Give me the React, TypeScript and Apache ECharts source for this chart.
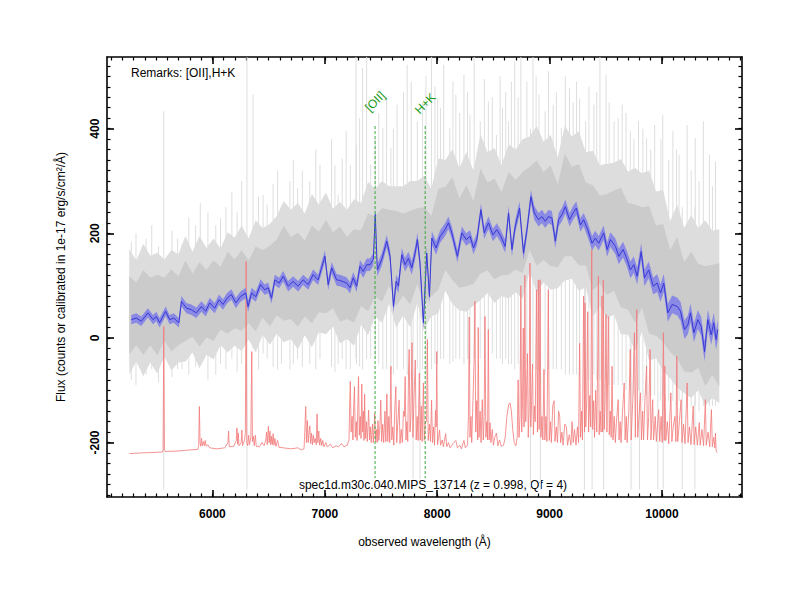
import React, { useEffect, useRef } from "react";
import * as echarts from "echarts";

const FONT = '"Liberation Sans", Arial, Helvetica, sans-serif';
const X_MIN = 5062;
const X_MAX = 10712;
const Y_MIN = -304;
const Y_MAX = 537;

const xMajorTicks = [6000, 7000, 8000, 9000, 10000];
const yMajorTicks = [-200, 0, 200, 400];
const xMinorTicks: number[] = [];
for (let v = 5100; v <= 10700; v += 100) xMinorTicks.push(v);
const yMinorTicks: number[] = [];
for (let v = -300; v <= 520; v += 20) yMinorTicks.push(v);

// smoothed spectrum: [wavelength, flux, 1-sigma]
const smoothed: [number, number, number][] = [
  [5278, 35, 9], [5323, 38, 9], [5367, 32, 9], [5426, 48, 9], [5471, 35, 9], [5501, 41, 9],
  [5530, 29, 9], [5584, 51, 9], [5619, 35, 9], [5655, 38, 9], [5702, 29, 9], [5724, 70, 10],
  [5768, 57, 10], [5813, 54, 10], [5857, 48, 10], [5902, 60, 10], [5940, 51, 10], [5976, 67, 10],
  [6020, 57, 10], [6059, 73, 10], [6094, 64, 10], [6130, 76, 10], [6169, 83, 10], [6208, 67, 10],
  [6249, 79, 10], [6297, 86, 10], [6317, 60, 11], [6348, 86, 10], [6386, 79, 10], [6428, 102, 10],
  [6466, 92, 10], [6496, 96, 10], [6526, 76, 10], [6555, 111, 10], [6594, 105, 10], [6630, 118, 10],
  [6674, 99, 10], [6718, 108, 10], [6763, 99, 10], [6807, 111, 10], [6852, 102, 10], [6896, 121, 10],
  [6941, 111, 10], [6971, 134, 11], [7001, 156, 11], [7030, 102, 11], [7061, 134, 11], [7105, 111, 11],
  [7134, 110, 11], [7194, 105, 11], [7224, 96, 11], [7253, 115, 11], [7283, 99, 11], [7313, 137, 12],
  [7342, 127, 12], [7373, 140, 12], [7402, 140, 12], [7432, 150, 12], [7449, 236, 12], [7467, 130, 12],
  [7507, 150, 12], [7551, 185, 12], [7581, 156, 12], [7611, 60, 13], [7635, 108, 13], [7655, 99, 13],
  [7685, 159, 13], [7714, 140, 13], [7744, 152, 13], [7774, 134, 13], [7803, 162, 13], [7824, 188, 13],
  [7847, 143, 14], [7877, 29, 15], [7907, 162, 14], [7931, 79, 14], [7952, 191, 13], [7990, 172, 13],
  [8026, 194, 12], [8070, 207, 12], [8100, 220, 12], [8130, 201, 12], [8180, 156, 12], [8219, 201, 12],
  [8258, 188, 12], [8293, 194, 12], [8323, 172, 12], [8353, 188, 12], [8389, 245, 12], [8418, 201, 12],
  [8456, 220, 12], [8496, 197, 12], [8531, 207, 12], [8567, 194, 12], [8605, 175, 12], [8635, 239, 13],
  [8665, 169, 13], [8694, 213, 13], [8733, 248, 13], [8768, 162, 13], [8799, 207, 13], [8834, 270, 13],
  [8864, 239, 13], [8902, 226, 13], [8932, 232, 13], [8961, 223, 13], [8991, 232, 13], [9021, 229, 13],
  [9051, 185, 13], [9080, 226, 13], [9110, 236, 13], [9140, 251, 13], [9178, 226, 13], [9209, 239, 13],
  [9238, 248, 13], [9274, 216, 13], [9303, 226, 13], [9339, 207, 14], [9378, 181, 14], [9407, 191, 14],
  [9437, 181, 14], [9481, 201, 14], [9512, 169, 14], [9541, 188, 14], [9586, 175, 15], [9615, 156, 15],
  [9654, 169, 15], [9690, 150, 15], [9719, 130, 16], [9749, 140, 16], [9779, 118, 16], [9815, 165, 16],
  [9844, 115, 16], [9882, 130, 16], [9922, 99, 16], [9957, 105, 17], [9987, 86, 17], [10016, 105, 17],
  [10052, 48, 17], [10091, 64, 17], [10136, 60, 17], [10165, 51, 18], [10200, 16, 18], [10230, 25, 18],
  [10254, 48, 18], [10284, 10, 18], [10319, 35, 18], [10349, 22, 18], [10379, -26, 19], [10408, 35, 19],
  [10438, 6, 19], [10461, 29, 19], [10481, -3, 19], [10497, 16, 19],
];

// raw spectrum envelopes, sampled every 62.5 Å from 5260 Å
const envWl: number[] = [];
for (let k = 0; k < 85; k++) envWl.push(5260 + 62.5 * k);
const coreHigh = [
  118, 106, 130, 115, 121, 115, 131, 118, 148, 123,
  145, 130, 148, 136, 165, 150, 168, 148, 175, 168,
  176, 188, 215, 193, 201, 186, 215, 203, 226, 202,
  213, 193, 208, 206, 238, 233, 248, 245, 243, 238,
  243, 248, 250, 233, 285, 289, 307, 267, 292, 262,
  324, 297, 305, 279, 317, 302, 317, 327, 339, 317,
  330, 294, 352, 327, 332, 297, 292, 272, 275, 282,
  287, 258, 255, 250, 252, 215, 218, 168, 193, 145,
  165, 142, 137, 140, 143,
];
const coreLow = [
  -31, -14, -32, -14, -33, -5, -26, -14, -6, 3,
  -17, 1, -6, 16, 8, 18, 14, 28, 13, 39,
  22, 43, 33, 36, 22, 41, 28, 49, 47, 57,
  31, 36, 29, 61, 51, 79, 69, 100, 61, 81,
  64, 103, 63, 79, 92, 130, 111, 96, 99, 103,
  123, 129, 112, 120, 121, 131, 124, 168, 138, 149,
  137, 135, 156, 156, 139, 138, 91, 104, 82, 90,
  58, 54, 29, 58, 8, 4, -8, -27, -39, -64,
  -66, -57, -92, -71, -93,
];
const midHigh = [
  170, 148, 180, 157, 163, 150, 168, 160, 195, 165,
  195, 172, 190, 171, 202, 192, 215, 190, 225, 210,
  218, 233, 262, 245, 258, 238, 275, 255, 278, 247,
  260, 245, 265, 258, 298, 285, 300, 290, 290, 290,
  300, 300, 310, 285, 343, 340, 360, 325, 355, 320,
  390, 355, 363, 330, 370, 360, 380, 385, 405, 375,
  388, 345, 405, 385, 395, 355, 358, 330, 333, 335,
  342, 318, 325, 315, 320, 280, 283, 223, 255, 210,
  235, 210, 225, 205, 208,
];
const midLow = [
  -70, -45, -73, -47, -68, -35, -62, -47, -45, -28,
  -58, -32, -41, -14, -28, -15, -25, -3, -28, 6,
  -13, 8, -8, -2, -22, 5, -18, 11, 7, 22,
  -10, -2, -15, 25, 5, 41, 29, 65, 20, 43,
  20, 67, 17, 41, 47, 90, 65, 53, 50, 62,
  72, 86, 67, 80, 75, 88, 75, 127, 87, 106,
  92, 95, 110, 113, 90, 97, 40, 61, 37, 45,
  7, 6, -25, 12, -43, -39, -63, -77, -95, -105,
  -115, -100, -130, -115, -125,
];

// individual raw-spectrum excursions: [wavelength, high, low]
const rawSpikes: [number, number, number][] = [
  [5278, 184, -80], [5320, 200, -90], [5410, 190, -70], [5460, 215, -60], [5520, 175, -85],
  [5567, 433, -290], [5640, 205, -75], [5690, 190, -60], [5729, 178, -60], [5790, 230, -70],
  [5850, 215, -55], [5892, 258, -40], [5960, 240, -80], [6030, 215, -70], [6072, 229, -50],
  [6120, 250, -60], [6173, 280, -40], [6220, 240, -65], [6260, 300, -50], [6307, 537, -290],
  [6361, 465, -20], [6410, 270, -60], [6451, 273, -30], [6487, 255, -40], [6540, 295, -55],
  [6580, 320, -60], [6614, 242, -50], [6690, 300, -60], [6720, 340, -50], [6758, 286, -40],
  [6800, 320, -55], [6866, 299, -50], [6920, 360, -60], [6957, 331, -40], [7060, 380, -55],
  [7090, 330, -65], [7119, 273, -50], [7155, 343, -40], [7190, 395, -60], [7227, 331, -60],
  [7277, 537, -40], [7282, 369, -50], [7310, 420, -55], [7336, 516, -60], [7372, 537, -40],
  [7408, 331, -40], [7450, 380, -40], [7480, 430, -50], [7516, 401, -60], [7550, 460, -60],
  [7588, 363, -70], [7610, 400, -70], [7643, 446, -60], [7700, 470, -60], [7733, 522, -70],
  [7769, 490, -80], [7785, 300, -270], [7823, 414, -60], [7847, 280, -270], [7870, 450, -60],
  [7900, 500, -70], [7949, 537, -60], [7980, 480, -50], [8004, 458, -50], [8030, 440, -40],
  [8058, 522, -40], [8112, 401, -50], [8140, 490, -45], [8166, 465, -40], [8200, 430, -40],
  [8238, 503, -50], [8270, 470, -40], [8292, 426, -50], [8329, 537, -40], [8383, 414, -40],
  [8420, 495, -40], [8455, 452, -50], [8490, 460, -30], [8527, 388, -40], [8560, 500, -40],
  [8581, 439, -50], [8610, 470, -40], [8635, 414, -50], [8660, 490, -50], [8690, 528, -60],
  [8720, 460, -50], [8744, 537, -60], [8798, 490, -50], [8830, 400, -290], [8852, 537, -60],
  [8880, 500, -60], [8906, 465, -60], [8918, 350, -290], [8960, 433, -70], [8990, 510, -60],
  [9032, 446, -60], [9060, 470, -60], [9105, 401, -60], [9140, 500, -70], [9177, 477, -70],
  [9210, 450, -70], [9240, 490, -70], [9267, 458, -70], [9310, 300, -290], [9321, 414, -80],
  [9350, 480, -80], [9378, 350, -290], [9394, 446, -70], [9420, 470, -80], [9448, 537, -80],
  [9481, 300, -290], [9502, 503, -80], [9530, 450, -90], [9574, 414, -90], [9610, 420, -90],
  [9646, 446, -90], [9680, 430, -100], [9718, 395, -100], [9725, 250, -290], [9750, 380, -110],
  [9791, 414, -100], [9800, 250, -290], [9830, 400, -120], [9863, 382, -110], [9900, 360, -110],
  [9935, 407, -110], [9963, 250, -290], [9990, 380, -120], [10007, 426, -110], [10011, 250, -290],
  [10060, 340, -120], [10097, 395, -120], [10130, 360, -130], [10152, 350, -120], [10180, 250, -290],
  [10224, 407, -120], [10260, 320, -130], [10293, 250, -290], [10296, 382, -130], [10330, 300, -140],
  [10368, 414, -130], [10422, 350, -130], [10450, 290, -130], [10476, 337, -130],
];

// sky spectrum (offset)
const skySpec: [number, number][] = [
  [5262, -221], [5350, -220], [5450, -219], [5555, -218], [5561, -214], [5567, 22], [5573, -214], [5580, -217],
  [5700, -216], [5800, -214], [5870, -213], [5878, -205], [5884, -131], [5890, -200], [5896, -207], [5904, -192],
  [5910, -206], [5920, -198], [5928, -206], [5936, -196], [5944, -207], [5960, -204], [5975, -210], [6040, -212],
  [6110, -210], [6138, -200], [6144, -178], [6150, -208], [6190, -207], [6212, -196], [6218, -172], [6224, -203],
  [6230, -182], [6236, -206], [6256, -200], [6262, -176], [6268, -206], [6286, -195], [6293, -180], [6300, 146],
  [6306, -200], [6314, -206], [6322, -186], [6330, -204], [6342, -190], [6350, -26], [6356, -198], [6364, -188],
  [6372, -206], [6382, -186], [6390, -207], [6420, -208], [6440, -200], [6460, -206], [6475, -195], [6482, -180],
  [6488, -204], [6498, -169], [6505, -200], [6512, -178], [6519, -204], [6526, -188], [6533, -204], [6540, -183],
  [6548, -205], [6556, -192], [6565, -207], [6580, -196], [6592, -209], [6630, -210], [6700, -212], [6760, -210],
  [6790, -214], [6815, -212], [6822, -180], [6830, -131], [6837, -200], [6845, -158], [6852, -200], [6860, -180],
  [6867, -168], [6874, -202], [6882, -182], [6890, -204], [6898, -186], [6906, -200], [6914, -192], [6924, -204],
  [6931, -145], [6938, -200], [6946, -178], [6954, -205], [6964, -192], [6972, -206], [6982, -196], [6992, -208],
  [7010, -200], [7022, -208], [7050, -203], [7070, -210], [7100, -206], [7120, -208], [7150, -202], [7170, -208],
  [7200, -205], [7215, -195], [7222, -120], [7227, -83], [7234, -180], [7243, -150], [7250, -195], [7257, -130],
  [7264, -93], [7271, -190], [7280, -160], [7287, -196], [7294, -130], [7300, -74], [7307, -186], [7315, -150],
  [7322, -192], [7329, -88], [7336, -180], [7343, -140], [7349, -196], [7354, -107], [7361, -192], [7370, -160],
  [7378, -198], [7390, -138], [7398, -195], [7405, -170], [7413, -200], [7424, -165], [7432, -200], [7444, -145],
  [7452, -198], [7460, -175], [7466, -200], [7473, -158], [7481, -196], [7490, -170], [7498, -119], [7506, -198],
  [7515, -165], [7524, -200], [7535, -140], [7543, -198], [7552, -107], [7560, -198], [7570, -150], [7578, -200],
  [7588, -54], [7596, -195], [7605, -170], [7614, -205], [7622, -140], [7632, -93], [7640, -200], [7650, -160],
  [7661, -119], [7669, -202], [7680, -175], [7690, -200], [7700, -140], [7708, -150], [7715, -74], [7722, -195],
  [7730, -160], [7738, -198], [7745, -60], [7751, -22], [7758, -180], [7766, -150], [7776, -9], [7784, -190],
  [7793, -120], [7805, -42], [7813, -195], [7822, -150], [7830, -196], [7841, -67], [7849, -195], [7858, -130],
  [7866, -198], [7877, -86], [7885, -196], [7895, -160], [7905, -160], [7913, -3], [7920, -196], [7932, -165],
  [7940, -198], [7950, -119], [7958, -200], [7968, -170], [7976, -205], [7985, -138], [7991, -170], [7996, -26],
  [8003, -204], [8012, -190], [8021, -176], [8030, -205], [8045, -195], [8055, -208], [8075, -183], [8085, -208],
  [8100, -200], [8115, -210], [8140, -202], [8166, -196], [8180, -210], [8200, -205], [8215, -212], [8238, -196],
  [8250, -210], [8270, -205], [8278, -150], [8285, 40], [8292, -190], [8300, -150], [8307, -200], [8318, -120],
  [8329, -40], [8336, 70], [8343, -180], [8352, -120], [8360, -195], [8365, 20], [8372, -190], [8382, -140],
  [8390, -200], [8401, -118], [8410, -195], [8418, -150], [8425, 41], [8433, -190], [8442, -160], [8448, -195],
  [8455, 16], [8462, -195], [8470, -162], [8478, -200], [8490, -175], [8500, -205], [8512, -190], [8527, -182],
  [8540, -206], [8555, -195], [8570, -207], [8590, -205], [8605, -190], [8620, -150], [8635, -128], [8648, -124],
  [8660, -140], [8672, -175], [8685, -200], [8700, -206], [8712, -190], [8720, -80], [8728, -190], [8737, -150],
  [8744, 100], [8752, -180], [8759, -120], [8766, 19], [8773, -170], [8780, 120], [8788, -160], [8795, -100],
  [8803, -30], [8810, -190], [8818, -140], [8825, 143], [8833, -170], [8840, -120], [8848, -50], [8856, -185],
  [8864, -130], [8872, -160], [8885, 92], [8892, -180], [8900, 111], [8907, -175], [8915, 111], [8923, -190],
  [8932, -150], [8940, -195], [8950, -60], [8958, -195], [8968, -150], [8976, -198], [8989, 92], [8997, -196],
  [9008, -160], [9016, -200], [9028, -130], [9040, -120], [9048, -198], [9060, -170], [9070, -200], [9080, -140],
  [9090, -150], [9098, -200], [9110, -180], [9120, -205], [9135, -165], [9150, -170], [9160, -205], [9175, -185],
  [9190, -205], [9200, -160], [9210, -200], [9222, -175], [9235, -205], [9248, -170], [9258, -200], [9267, -10],
  [9275, -190], [9284, -140], [9292, -195], [9303, 80], [9311, -180], [9315, 67], [9322, -170], [9330, -120],
  [9339, 50], [9347, -180], [9358, -110], [9366, -170], [9375, 169], [9383, -175], [9392, -120], [9400, -190],
  [9410, -100], [9420, -180], [9430, -10], [9434, 118], [9441, -185], [9450, -140], [9458, -180], [9466, 80],
  [9472, -180], [9478, 111], [9486, -175], [9494, -120], [9502, 45], [9510, -180], [9523, 41], [9531, -185],
  [9540, -140], [9548, -190], [9556, -54], [9564, -195], [9575, -150], [9585, -200], [9595, -160], [9610, -118],
  [9618, -195], [9628, -160], [9636, -200], [9648, -145], [9664, -86], [9672, -195], [9682, -150], [9690, -200],
  [9705, -140], [9718, -22], [9726, -195], [9740, -120], [9755, 10], [9763, -190], [9776, 54], [9784, -190],
  [9795, -150], [9809, -105], [9817, -195], [9828, -140], [9836, -195], [9848, -120], [9863, -54], [9871, -195],
  [9882, -150], [9894, -22], [9902, -195], [9917, -118], [9925, -195], [9940, -150], [9950, -198], [9971, -137],
  [9980, -198], [9992, -150], [10002, -200], [10013, 10], [10020, -196], [10025, -54], [10034, -196], [10048, -160],
  [10060, -202], [10079, -105], [10088, -198], [10100, -170], [10115, -150], [10124, -198], [10132, -35], [10140, -198],
  [10155, -160], [10170, -118], [10178, -200], [10192, -165], [10205, -202], [10224, -86], [10232, -200], [10245, -170],
  [10258, -204], [10278, -130], [10286, -204], [10300, -170], [10315, -205], [10332, -162], [10340, -205], [10355, -175],
  [10370, -206], [10386, -118], [10394, -205], [10410, -180], [10425, -208], [10440, -137], [10448, -208], [10460, -190],
  [10470, -210], [10476, -182], [10482, -216], [10492, -219],
];

// identified lines
const lineNames = ["[OII]", "H+K"];
const lineWl = [7447, 7893];
const lineTop = 405;
const lineBottom = -268;
const lineLabelY = [452, 448];

function bandSeries(lower: [number, number][], upper: [number, number][], fill: string, z: number) {
  return {
    type: "custom",
    xAxisIndex: 0,
    yAxisIndex: 0,
    z,
    silent: true,
    clip: true,
    data: [[7000, 0]],
    renderItem: (_p: any, api: any) => {
      const pts: number[][] = [];
      for (const p of upper) pts.push(api.coord(p));
      for (let i = lower.length - 1; i >= 0; i--) pts.push(api.coord(lower[i]));
      return { type: "polygon", shape: { points: pts }, style: { fill } };
    },
  };
}

function makeAxes(dir: "x" | "y") {
  const min = dir === "x" ? X_MIN : Y_MIN;
  const max = dir === "x" ? X_MAX : Y_MAX;
  const major = dir === "x" ? xMajorTicks : yMajorTicks;
  const minor = dir === "x" ? xMinorTicks : yMinorTicks;
  const sides = dir === "x" ? ["bottom", "top"] : ["left", "right"];
  const axes: any[] = [];
  sides.forEach((side, si) => {
    [true, false].forEach((isMajor) => {
      const a: any = {
        type: "value",
        min,
        max,
        position: side,
        splitLine: { show: false },
        axisLine: { show: isMajor, onZero: false, lineStyle: { color: "#000", width: 1.6 } },
        axisTick: {
          show: true,
          inside: true,
          length: isMajor ? 7 : 3.5,
          customValues: isMajor ? major : minor,
          lineStyle: { color: "#000", width: isMajor ? 1.6 : 1.2 },
        },
        axisLabel: { show: false },
      };
      if (si === 0 && isMajor) {
        a.axisLabel = {
          show: true,
          customValues: major,
          formatter: (v: number) => String(v),
          fontFamily: FONT,
          fontWeight: "bold",
          fontSize: 12,
          color: "#000",
          margin: dir === "x" ? 11 : 6,
          rotate: dir === "y" ? 90 : 0,
        };
        a.name = dir === "x" ? "observed wavelength (Å)" : "Flux (counts or calibrated in 1e-17 erg/s/cm²/Å)";
        a.nameLocation = "middle";
        a.nameGap = dir === "x" ? 39 : 40;
        a.nameTextStyle = { fontFamily: FONT, fontSize: 12, color: "#000" };
      }
      axes.push(a);
    });
  });
  return axes;
}

export default function App() {
  const ref = useRef<HTMLDivElement>(null);
  useEffect(() => {
    if (!ref.current) return;
    const chart = echarts.init(ref.current, undefined, { renderer: "svg" });

    const midUpper = envWl.map((w, i) => [w, midHigh[i]] as [number, number]);
    const midLower = envWl.map((w, i) => [w, midLow[i]] as [number, number]);
    const coreUpper = envWl.map((w, i) => [w, coreHigh[i]] as [number, number]);
    const coreLower = envWl.map((w, i) => [w, coreLow[i]] as [number, number]);
    const blueUpper = smoothed.map((d) => [d[0], d[1] + d[2]] as [number, number]);
    const blueLower = smoothed.map((d) => [d[0], d[1] - d[2]] as [number, number]);

    const option: any = {
      animation: false,
      backgroundColor: "#ffffff",
      textStyle: { fontFamily: FONT },
      grid: { left: 107, right: 58, top: 57, bottom: 103, containLabel: false },
      xAxis: makeAxes("x"),
      yAxis: makeAxes("y"),
      series: [
        {
          type: "custom",
          xAxisIndex: 0,
          yAxisIndex: 0,
          z: 1,
          silent: true,
          clip: true,
          data: rawSpikes,
          encode: { x: 0, y: [1, 2] },
          renderItem: (_p: any, api: any) => {
            const a = api.coord([api.value(0), api.value(1)]);
            const b = api.coord([api.value(0), api.value(2)]);
            return {
              type: "line",
              shape: { x1: a[0], y1: a[1], x2: b[0], y2: b[1] },
              style: { stroke: "#dedede", lineWidth: 1 },
            };
          },
        },
        bandSeries(midLower, midUpper, "#dddddd", 2),
        bandSeries(coreLower, coreUpper, "#cbcbcb", 3),
        {
          type: "line",
          xAxisIndex: 0,
          yAxisIndex: 0,
          z: 4,
          silent: true,
          data: skySpec,
          symbol: "none",
          showSymbol: false,
          lineStyle: { color: "#f27878", width: 0.8 },
        },
        bandSeries(blueLower, blueUpper, "#8a8ae4", 5),
        {
          type: "line",
          xAxisIndex: 0,
          yAxisIndex: 0,
          z: 6,
          silent: true,
          data: smoothed.map((d) => [d[0], d[1]]),
          symbol: "none",
          showSymbol: false,
          lineStyle: { color: "#3838d4", width: 1 },
        },
        {
          type: "custom",
          xAxisIndex: 0,
          yAxisIndex: 0,
          z: 7,
          silent: true,
          clip: false,
          data: lineWl.map((w, i) => [w, lineTop, lineBottom, lineLabelY[i]]),
          encode: { x: 0, y: [1, 2] },
          renderItem: (p: any, api: any) => {
            const a = api.coord([api.value(0), api.value(1)]);
            const b = api.coord([api.value(0), api.value(2)]);
            const t = api.coord([api.value(0), api.value(3)]);
            return {
              type: "group",
              children: [
                {
                  type: "line",
                  shape: { x1: a[0], y1: a[1], x2: b[0], y2: b[1] },
                  style: { stroke: "#3aa83a", lineWidth: 1, lineDash: [3, 2] },
                },
                {
                  type: "text",
                  x: t[0],
                  y: t[1],
                  rotation: Math.PI / 4,
                  style: {
                    text: lineNames[p.dataIndex],
                    fill: "#1a9a1a",
                    font: `12px ${FONT}`,
                    align: "center",
                    verticalAlign: "middle",
                  },
                },
              ],
            };
          },
        },
      ],
      graphic: [
        {
          type: "text",
          x: 131,
          y: 73,
          style: {
            text: "Remarks: [OII],H+K",
            fill: "#000",
            font: `12px ${FONT}`,
            align: "left",
            verticalAlign: "middle",
          },
        },
        {
          type: "text",
          x: 433,
          y: 485,
          style: {
            text: "spec1d.m30c.040.MIPS_13714 (z = 0.998, Qf = 4)",
            fill: "#000",
            font: `12px ${FONT}`,
            align: "center",
            verticalAlign: "middle",
          },
        },
      ],
    };
    chart.setOption(option);
    return () => chart.dispose();
  }, []);
  return (
    <div
      ref={ref}
      style={{ position: "fixed", left: 0, top: 0, width: 800, height: 600, background: "#fff" }}
    />
  );
}
